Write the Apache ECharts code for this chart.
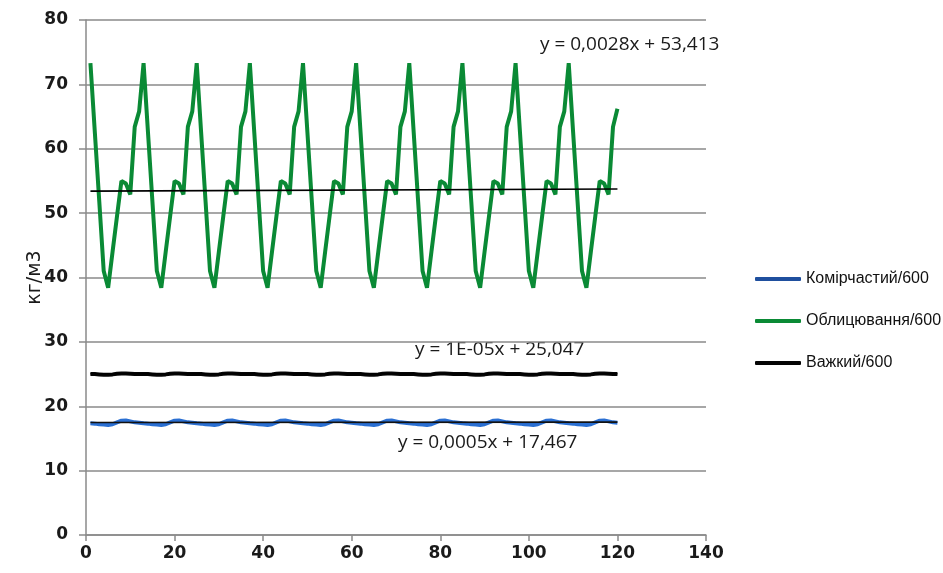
<!DOCTYPE html>
<html>
<head>
<meta charset="utf-8">
<script src="https://cdn.jsdelivr.net/npm/echarts@6/dist/echarts.min.js"></script>
<style>
html,body{margin:0;padding:0;background:#fff;}
#chart{width:943px;height:573px;}
</style>
</head>
<body>
<div id="chart"></div>
<script>
// x values run 1..120 (one value per array index)
var seriesNames = ['Комірчастий/600', 'Облицювання/600', 'Важкий/600'];

var komirchastyi = [
17.35,17.3,17.2,17.15,17.1,17.2,17.5,17.75,17.8,17.65,17.5,17.45,
17.35,17.3,17.2,17.15,17.1,17.2,17.5,17.75,17.8,17.65,17.5,17.45,
17.35,17.3,17.2,17.15,17.1,17.2,17.5,17.75,17.8,17.65,17.5,17.45,
17.35,17.3,17.2,17.15,17.1,17.2,17.5,17.75,17.8,17.65,17.5,17.45,
17.35,17.3,17.2,17.15,17.1,17.2,17.5,17.75,17.8,17.65,17.5,17.45,
17.35,17.3,17.2,17.15,17.1,17.2,17.5,17.75,17.8,17.65,17.5,17.45,
17.35,17.3,17.2,17.15,17.1,17.2,17.5,17.75,17.8,17.65,17.5,17.45,
17.35,17.3,17.2,17.15,17.1,17.2,17.5,17.75,17.8,17.65,17.5,17.45,
17.35,17.3,17.2,17.15,17.1,17.2,17.5,17.75,17.8,17.65,17.5,17.45,
17.35,17.3,17.2,17.15,17.1,17.2,17.5,17.75,17.8,17.65,17.5,17.45
];

var oblytsiuvannia = [
73.3,62.5,51.8,41.0,38.4,44.0,49.5,55.0,54.6,52.9,63.4,65.8,
73.3,62.5,51.8,41.0,38.4,44.0,49.5,55.0,54.6,52.9,63.4,65.8,
73.3,62.5,51.8,41.0,38.4,44.0,49.5,55.0,54.6,52.9,63.4,65.8,
73.3,62.5,51.8,41.0,38.4,44.0,49.5,55.0,54.6,52.9,63.4,65.8,
73.3,62.5,51.8,41.0,38.4,44.0,49.5,55.0,54.6,52.9,63.4,65.8,
73.3,62.5,51.8,41.0,38.4,44.0,49.5,55.0,54.6,52.9,63.4,65.8,
73.3,62.5,51.8,41.0,38.4,44.0,49.5,55.0,54.6,52.9,63.4,65.8,
73.3,62.5,51.8,41.0,38.4,44.0,49.5,55.0,54.6,52.9,63.4,65.8,
73.3,62.5,51.8,41.0,38.4,44.0,49.5,55.0,54.6,52.9,63.4,65.8,
73.3,62.5,51.8,41.0,38.4,44.0,49.5,55.0,54.6,52.9,63.4,66.2
];

var vazhkyi = [
25.0,25.0,24.95,24.9,24.9,24.95,25.05,25.1,25.1,25.05,25.0,25.0,
25.0,25.0,24.95,24.9,24.9,24.95,25.05,25.1,25.1,25.05,25.0,25.0,
25.0,25.0,24.95,24.9,24.9,24.95,25.05,25.1,25.1,25.05,25.0,25.0,
25.0,25.0,24.95,24.9,24.9,24.95,25.05,25.1,25.1,25.05,25.0,25.0,
25.0,25.0,24.95,24.9,24.9,24.95,25.05,25.1,25.1,25.05,25.0,25.0,
25.0,25.0,24.95,24.9,24.9,24.95,25.05,25.1,25.1,25.05,25.0,25.0,
25.0,25.0,24.95,24.9,24.9,24.95,25.05,25.1,25.1,25.05,25.0,25.0,
25.0,25.0,24.95,24.9,24.9,24.95,25.05,25.1,25.1,25.05,25.0,25.0,
25.0,25.0,24.95,24.9,24.9,24.95,25.05,25.1,25.1,25.05,25.0,25.0,
25.0,25.0,24.95,24.9,24.9,24.95,25.05,25.1,25.1,25.05,25.0,25.0
];

// trend lines (endpoints at x=1 and x=120 from the printed equations)
var trendX = [1, 120];
var trendOblyts = [53.416, 53.749];
var trendVazhk = [25.047, 25.048];
var trendKomir = [17.468, 17.527];

var trendLabels = ['y = 0,0028x + 53,413', 'y = 1E-05x + 25,047', 'y = 0,0005x + 17,467'];

var xTicks = [0, 20, 40, 60, 80, 100, 120, 140];
var yTicks = [0, 10, 20, 30, 40, 50, 60, 70, 80];

function pairs(arr) { return arr.map(function (v, i) { return [i + 1, v]; }); }
function tpairs(arr) { return arr.map(function (v, i) { return [trendX[i], v]; }); }

var chart = echarts.init(document.getElementById('chart'));
var axisFont = { fontFamily: 'DejaVu Sans', fontSize: 17, fontWeight: 'bold', color: '#1a1a1a' };

chart.setOption({
  animation: false,
  backgroundColor: '#ffffff',
  grid: { left: 86, right: 237, top: 20, bottom: 38, containLabel: false },
  xAxis: {
    type: 'value', min: xTicks[0], max: xTicks[xTicks.length - 1], interval: 20,
    axisLine: { show: true, onZero: false, lineStyle: { color: '#8a8a8a', width: 1.5 } },
    axisTick: { show: true, length: 6, lineStyle: { color: '#8a8a8a', width: 1.5 } },
    splitLine: { show: false },
    axisLabel: Object.assign({ margin: 10 }, axisFont)
  },
  yAxis: {
    type: 'value', min: yTicks[0], max: yTicks[yTicks.length - 1], interval: 10,
    name: 'кг/м3', nameLocation: 'middle', nameRotate: 90, nameGap: 41,
    nameMoveOverlap: false,
    nameTextStyle: { fontFamily: 'DejaVu Sans', fontSize: 19, color: '#1a1a1a' },
    axisLine: { show: true, lineStyle: { color: '#8a8a8a', width: 1.5 } },
    axisTick: { show: true, length: 7, lineStyle: { color: '#8a8a8a', width: 1.5 } },
    splitLine: { show: true, lineStyle: { color: '#8a8a8a', width: 1.5 } },
    axisLabel: Object.assign({ margin: 18 }, axisFont)
  },
  legend: {
    data: seriesNames,
    orient: 'vertical',
    left: 750, top: 266,
    itemGap: 26,
    itemWidth: 46, itemHeight: 4,
    icon: 'roundRect',
    textStyle: { fontFamily: 'Liberation Sans', fontSize: 16, color: '#111' }
  },
  series: [
    {
      name: seriesNames[0], type: 'line', data: pairs(komirchastyi),
      symbol: 'none', lineStyle: { color: '#2a6fd2', width: 4 }, itemStyle: { color: '#1f4f9e' }, z: 3
    },
    {
      name: seriesNames[1], type: 'line', data: pairs(oblytsiuvannia),
      symbol: 'none', lineStyle: { color: '#0a8a35', width: 4 }, itemStyle: { color: '#0a8a35' }, z: 3
    },
    {
      name: seriesNames[2], type: 'line', data: pairs(vazhkyi),
      symbol: 'none', lineStyle: { color: '#050505', width: 4 }, itemStyle: { color: '#050505' }, z: 3
    },
    {
      name: 'trend1', type: 'line', data: tpairs(trendOblyts), symbol: 'none',
      lineStyle: { color: '#000', width: 1.6 }, z: 5, silent: true
    },
    {
      name: 'trend2', type: 'line', data: tpairs(trendVazhk), symbol: 'none',
      lineStyle: { color: '#000', width: 1.6 }, z: 5, silent: true
    },
    {
      name: 'trend3', type: 'line', data: tpairs(trendKomir), symbol: 'none',
      lineStyle: { color: '#111', width: 1.6 }, z: 5, silent: true
    }
  ],
  graphic: [
    { type: 'text', left: 540, top: 35, style: { text: trendLabels[0], font: '19px "Open Sans"', fill: '#1a1a1a' } },
    { type: 'text', left: 415, top: 340, style: { text: trendLabels[1], font: '19px "Open Sans"', fill: '#1a1a1a' } },
    { type: 'text', left: 398, top: 433, style: { text: trendLabels[2], font: '19px "Open Sans"', fill: '#1a1a1a' } }
  ]
});
</script>
</body>
</html>
